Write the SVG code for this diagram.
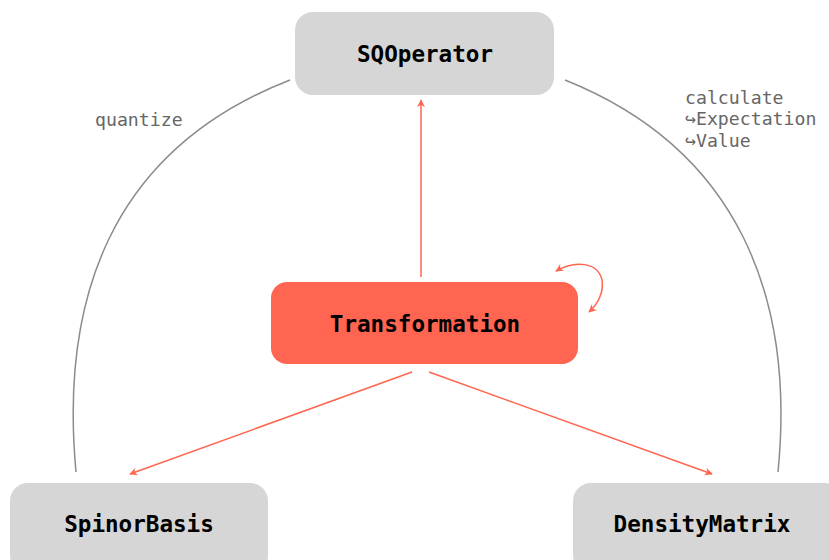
<svg xmlns="http://www.w3.org/2000/svg" width="829" height="560" viewBox="0 0 829 560">
  <style>
    .node { fill: #d6d6d6; }
    .hot { fill: #ff6550; }
    .title { font-family: "DejaVu Sans Mono", "Liberation Mono", monospace; font-weight: bold; font-size: 22.6px; fill: #000; text-anchor: middle; dominant-baseline: central; }
    .lbl { font-family: "DejaVu Sans Mono", "Liberation Mono", monospace; font-size: 18.2px; fill: #666; }
    .grey { fill: none; stroke: #8c8c8c; stroke-width: 1.5; }
    .red { fill: none; stroke: #ff6550; stroke-width: 1.5; }
  </style>
  <defs>
    <marker id="ah" viewBox="0 0 10 10" refX="9" refY="5" markerWidth="8" markerHeight="8" orient="auto-start-reverse" markerUnits="userSpaceOnUse">
      <path d="M0,0 L10,5 L0,10 L3,5 z" fill="#ff6550"/>
    </marker>
  </defs>
  <rect width="829" height="560" fill="#fff"/>

  <g id="connectors">
    <path class="grey" d="M290,80 C110,150 60,300 76,472"/>
    <path class="grey" d="M565,80 C740,150 795,300 778,472"/>
    <path class="red" d="M421,277 L421,100" marker-end="url(#ah)"/>
    <path class="red" d="M412,372 L130,474" marker-end="url(#ah)"/>
    <path class="red" d="M429,372 L712,474" marker-end="url(#ah)"/>
    <path class="red" d="M556,271 C575,260 598,262 602,280 C604,292 598,304 589,312" marker-start="url(#ah)" marker-end="url(#ah)"/>
    <text class="lbl" x="95" y="126">quantize</text>
    <text class="lbl" x="685" y="104">calculate</text>
    <text class="lbl" x="685" y="125">↪Expectation</text>
    <text class="lbl" x="685" y="147">↪Value</text>
  </g>

  <g id="SQOperator">
    <rect class="node" x="295" y="12" width="259" height="83" rx="18"/>
    <text class="title" x="425" y="54">SQOperator</text>
  </g>
  <g id="Transformation">
    <rect class="hot" x="271" y="282" width="307" height="82" rx="16"/>
    <text class="title" x="425" y="324">Transformation</text>
  </g>
  <g id="SpinorBasis">
    <rect class="node" x="10" y="483" width="258" height="90" rx="18"/>
    <text class="title" x="139" y="524">SpinorBasis</text>
  </g>
  <g id="DensityMatrix">
    <rect class="node" x="573" y="483" width="270" height="90" rx="18"/>
    <text class="title" x="702" y="524">DensityMatrix</text>
  </g>
</svg>
